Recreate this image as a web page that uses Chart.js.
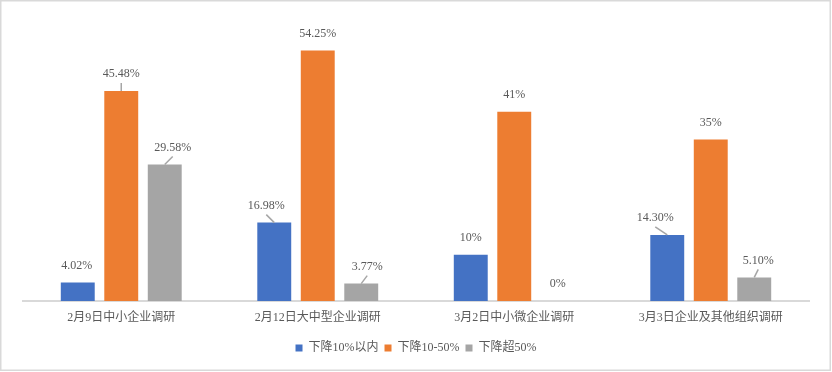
<!DOCTYPE html>
<html>
<head>
<meta charset="utf-8">
<script src="https://cdn.jsdelivr.net/npm/chart.js@4"></script>
<style>
  html, body { margin: 0; padding: 0; background: #fff; }
  #wrap { width: 832px; height: 372px; }
</style>
</head>
<body>
<div id="wrap"><canvas id="myChart" width="832" height="372"></canvas></div>
<script>
const categories = ['2月9日中小企业调研', '2月12日大中型企业调研', '3月2日中小微企业调研', '3月3日企业及其他组织调研'];
const seriesNames = ['下降10%以内', '下降10-50%', '下降超50%'];

const below10 = [4.02, 16.98, 10, 14.30];
const from10to50 = [45.48, 54.25, 41, 35];
const over50 = [29.58, 3.77, 0, 5.10];

// label text exactly as printed on the picture
const below10Labels = ['4.02%', '16.98%', '10%', '14.30%'];
const from10to50Labels = ['45.48%', '54.25%', '41%', '35%'];
const over50Labels = ['29.58%', '3.77%', '0%', '5.10%'];

const colors = ['#4472C4', '#ED7D31', '#A5A5A5'];

// where labels were dragged in the original, with a leader line back to the bar
const labelShift = [[-1, -8, 0, -12], [0, 0, 0, 0], [8, 6, 0, 4]];
const hasLeader = [[false, true, false, true], [true, false, false, false], [true, true, false, true]];

const fontFamily = "'Liberation Serif', 'Noto Sans CJK SC', serif";

const borderBox = {
  id: 'borderBox',
  beforeDraw(chart) {
    const ctx = chart.ctx;
    ctx.save();
    ctx.fillStyle = '#fff';
    ctx.fillRect(0, 0, chart.width, chart.height);
    ctx.strokeStyle = '#d9d9d9';
    ctx.lineWidth = 1.5;
    ctx.strokeRect(0.75, 0.75, chart.width - 2.5, chart.height - 2.5);
    ctx.restore();
  }
};

const barLabels = {
  id: 'barLabels',
  afterDatasetsDraw(chart) {
    const ctx = chart.ctx;
    const texts = [below10Labels, from10to50Labels, over50Labels];
    ctx.save();
    ctx.font = '12px ' + fontFamily;
    ctx.textAlign = 'center';
    ctx.textBaseline = 'middle';
    chart.data.datasets.forEach((ds, i) => {
      chart.getDatasetMeta(i).data.forEach((bar, j) => {
        const lx = bar.x + labelShift[i][j];
        const ly = bar.y - 17;
        if (hasLeader[i][j]) {
          ctx.strokeStyle = '#a6a6a6';
          ctx.lineWidth = 1.5;
          ctx.beginPath();
          ctx.moveTo(lx, ly + 9);
          ctx.lineTo(bar.x, bar.y);
          ctx.stroke();
        }
        ctx.fillStyle = '#595959';
        ctx.fillText(texts[i][j], lx, ly);
      });
    });
    ctx.restore();
  }
};

const data = {
  labels: categories,
  datasets: [
    { label: seriesNames[0], data: below10, backgroundColor: colors[0] },
    { label: seriesNames[1], data: from10to50, backgroundColor: colors[1] },
    { label: seriesNames[2], data: over50, backgroundColor: colors[2] }
  ]
};

const config = {
  type: 'bar',
  data: data,
  options: {
    responsive: false,
    animation: false,
    datasets: {
      bar: { categoryPercentage: 0.664, barPercentage: 0.78 }
    },
    layout: { padding: { left: 23, right: 23, top: 24, bottom: 8 } },
    scales: {
      x: {
        grid: { display: false, drawTicks: false },
        border: { color: '#d9d9d9', width: 2 },
        ticks: {
          color: '#595959',
          padding: 10,
          maxRotation: 0,
          font: { size: 12, family: fontFamily }
        },
        afterFit(scale) { scale.height = 35; }
      },
      y: {
        display: false,
        min: 0,
        max: 60
      }
    },
    plugins: {
      legend: {
        position: 'bottom',
        labels: {
          color: '#595959',
          boxWidth: 7,
          boxHeight: 7,
          padding: 6,
          font: { size: 12, family: fontFamily }
        }
      },
      tooltip: { enabled: false }
    }
  },
  plugins: [borderBox, barLabels]
};

const myChart = new Chart(
  document.getElementById('myChart'),
  config
);
</script>
</body>
</html>
